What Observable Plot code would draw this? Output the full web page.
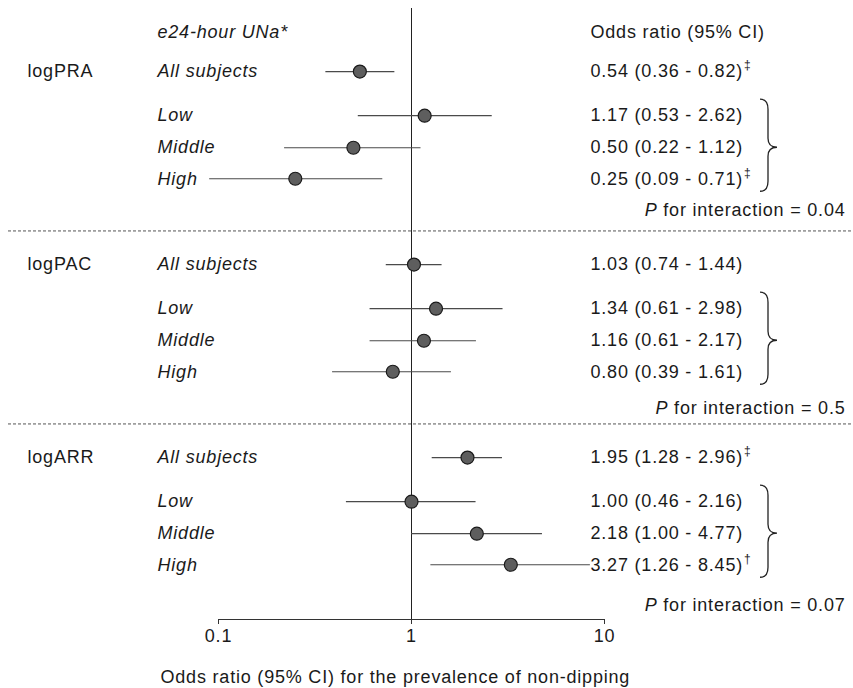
<!DOCTYPE html>
<html>
<head>
<meta charset="utf-8">
<script src="https://cdn.jsdelivr.net/npm/d3@7"></script>
<script src="https://cdn.jsdelivr.net/npm/@observablehq/plot@0.6"></script>
<style>
  html, body { margin: 0; padding: 0; background: #fff; }
  #chart svg { font-family: "Liberation Sans", Arial, sans-serif; }
  #chart svg text { letter-spacing: 0.8px; }
</style>
</head>
<body>
<div id="chart"></div>
<script>
// ---- data ----
const groups = ["logPRA", "logPAC", "logARR"];
const subgroups = ["All subjects", "Low", "Middle", "High"];
const oddsRatio = {
  logPRA: [0.54, 1.17, 0.50, 0.25],
  logPAC: [1.03, 1.34, 1.16, 0.80],
  logARR: [1.95, 1.00, 2.18, 3.27]
};
const ciLow = {
  logPRA: [0.36, 0.53, 0.22, 0.09],
  logPAC: [0.74, 0.61, 0.61, 0.39],
  logARR: [1.28, 0.46, 1.00, 1.26]
};
const ciHigh = {
  logPRA: [0.82, 2.62, 1.12, 0.71],
  logPAC: [1.44, 2.98, 2.17, 1.61],
  logARR: [2.96, 2.16, 4.77, 8.45]
};
const significance = {
  logPRA: ["‡", "", "", "‡"],
  logPAC: ["", "", "", ""],
  logARR: ["‡", "", "", "†"]
};
const pInteraction = ["0.04", "0.5", "0.07"];
const xTicks = [0.1, 1, 10];
const headerLeft = "e24-hour UNa*";
const headerRight = "Odds ratio (95% CI)";
const xTitle = "Odds ratio (95% CI) for the prevalence of non-dipping";

// ---- layout (row units) ----
const blockStep = 6.03, firstBlock = 1.22;
const subOffset = [0, 1.38, 2.38, 3.35];
const pOffset = [4.34, 4.5, 4.62];
const dashOffset = 4.98;
const axisPos = 18.34;
const topPos = -0.75;

const f2 = d3.format(".2f");
const rows = [];
groups.forEach((g, gi) => {
  subgroups.forEach((s, si) => {
    rows.push({
      group: g, sub: s, gi, si,
      pos: firstBlock + gi * blockStep + subOffset[si],
      or: oddsRatio[g][si], lo: ciLow[g][si], hi: ciHigh[g][si],
      label: `${f2(oddsRatio[g][si])} (${f2(ciLow[g][si])} - ${f2(ciHigh[g][si])})`,
      sig: significance[g][si]
    });
  });
});
const sigRows = rows.filter(d => d.sig);
const groupRows = groups.map((g, gi) => ({group: g, pos: firstBlock + gi * blockStep}));
const pRows = groups.map((g, gi) => ({text: `for interaction = ${pInteraction[gi]}`, pos: firstBlock + gi * blockStep + pOffset[gi]}));
const dashRows = groups.slice(0, -1).map((g, gi) => ({pos: firstBlock + gi * blockStep + dashOffset}));

const W = 853, H = 688;
const mL = 218, mR = 249, mT = 8, mB = 69;
const FS = 18, LS = 0.8;
const ctx = document.createElement("canvas").getContext("2d");
ctx.font = `${FS}px "Liberation Sans", Arial, sans-serif`;
const textWidth = s => ctx.measureText(s).width + LS * s.length;
const textColor = "#1a1a1a";
const rightX = 590 - (W - mR); // dx relative to frame right
const pRight = 845 - (W - mR);

// shift each text of a mark horizontally by a measured amount
const shiftBy = (data, fn) => (index, scales, values, dims, context, next) => {
  const g = next(index, scales, values, dims, context);
  d3.select(g).selectAll("text").each(function(_, k) {
    const t = d3.select(this);
    const tr = t.attr("transform") || "";
    t.attr("transform", tr + ` translate(${fn(data[index[k]])},0)`);
  });
  return g;
};

const plot = Plot.plot({
  width: W, height: H,
  marginLeft: mL, marginRight: mR, marginTop: mT, marginBottom: mB,
  style: {fontFamily: '"Liberation Sans", Arial, sans-serif', fontSize: FS + "px", color: textColor, overflow: "visible"},
  x: {type: "log", domain: [0.1, 10]},
  y: {domain: [topPos, axisPos], reverse: true, axis: null},
  marks: [
    // dashed separators
    Plot.ruleY(dashRows, {y: "pos", stroke: "#555", strokeWidth: 1, strokeDasharray: "3,2", insetLeft: -(mL - 8), insetRight: -mR}),
    // reference line at 1
    Plot.ruleX([1], {stroke: "#222", strokeWidth: 1}),
    // x axis line
    Plot.ruleY([axisPos], {x1: xTicks[0], x2: xTicks[xTicks.length - 1], stroke: "#333", strokeWidth: 1.2}),
    Plot.axisX({ticks: xTicks, tickSize: 5, tickPadding: 5, tickFormat: d => String(d), label: null, stroke: "#333"}),
    // confidence intervals
    Plot.ruleY(rows, {y: "pos", x1: "lo", x2: "hi", stroke: "#4a4a4a", strokeWidth: 1.2}),
    Plot.dot(rows, {x: "or", y: "pos", r: 6.5, fill: "#5e5e5e", stroke: "#1a1a1a", strokeWidth: 1.2}),
    // headers
    Plot.text([headerLeft], {frameAnchor: "top-left", dx: 157 - mL, dy: 32 - mT, lineAnchor: "middle", textAnchor: "start", fontStyle: "italic", fill: textColor}),
    Plot.text([headerRight], {frameAnchor: "top-right", dx: rightX, dy: 32 - mT, lineAnchor: "middle", textAnchor: "start", fill: textColor}),
    // group labels
    Plot.text(groupRows, {y: "pos", text: "group", frameAnchor: "left", dx: 27 - mL, textAnchor: "start", fill: textColor}),
    // subgroup labels
    Plot.text(rows, {y: "pos", text: "sub", frameAnchor: "left", dx: 157 - mL, textAnchor: "start", fontStyle: "italic", fill: textColor}),
    // OR labels
    Plot.text(rows, {y: "pos", text: "label", frameAnchor: "right", dx: rightX, textAnchor: "start", fill: textColor}),
    // significance superscripts
    Plot.text(sigRows, {y: "pos", text: "sig", frameAnchor: "right", dx: rightX + 1, dy: -6, fontSize: 12, textAnchor: "start", fill: textColor,
      render: shiftBy(sigRows, d => textWidth(d.label))}),
    // P for interaction
    Plot.text(pRows, {y: "pos", text: "text", frameAnchor: "right", dx: pRight, textAnchor: "end", fill: textColor}),
    Plot.text(pRows, {y: "pos", text: () => "P", frameAnchor: "right", dx: pRight, textAnchor: "end", fontStyle: "italic", fill: textColor,
      render: shiftBy(pRows, d => -textWidth(d.text + " "))}),
    // x title
    Plot.text([xTitle], {frameAnchor: "bottom-left", dx: 160 - mL, dy: 58, lineAnchor: "middle", textAnchor: "start", fill: textColor})
  ]
});

// braces (placed with the plot's own y scale)
const ys = plot.scale("y");
const bx = 760;
const braceGroup = d3.select(plot).append("g").attr("fill", "none").attr("stroke", "#222").attr("stroke-width", 1.3);
groups.forEach((g, gi) => {
  const r = rows.filter(d => d.gi === gi);
  const top = ys.apply(r[1].pos) - 16, bot = ys.apply(r[3].pos) + 13, mid = ys.apply(r[2].pos);
  const x0 = bx, x1 = bx + 8, x2 = bx + 17;
  braceGroup.append("path").attr("d",
    `M${x0},${top} Q${x1},${top} ${x1},${top + 10} L${x1},${mid - 9} Q${x1},${mid} ${x2},${mid} Q${x1},${mid} ${x1},${mid + 9} L${x1},${bot - 10} Q${x1},${bot} ${x0},${bot}`);
});

document.getElementById("chart").appendChild(plot);
</script>
</body>
</html>
